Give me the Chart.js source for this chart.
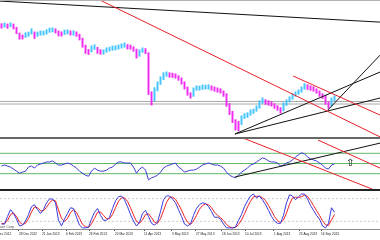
<!DOCTYPE html>
<html>
<head>
<meta charset="utf-8">
<script src="https://cdn.jsdelivr.net/npm/chart.js@4.4.1/dist/chart.umd.min.js"></script>
<style>
  html, body { margin: 0; padding: 0; background: #fff; }
  #wrap { position: relative; width: 380px; height: 240px; overflow: hidden; background: #fff; }
  canvas { position: absolute; left: 0; }
  .sep { position: absolute; left: 0; width: 380px; }
</style>
</head>
<body>
<div id="wrap">
  <canvas id="price" width="380" height="137" style="top:0"></canvas>
  <canvas id="rsi" width="380" height="51" style="top:138px"></canvas>
  <canvas id="stoch" width="380" height="49" style="top:191px"></canvas>
  <div class="sep" style="top:0;height:1px;background:#b4b4b4"></div>
  <div class="sep" style="top:137px;height:2px;background:#666"></div>
  <div class="sep" style="top:189px;height:2px;background:#222"></div>
</div>
<script>
// daily bars, Dec 2012 - Sep 2013
const highs = [1770,1774,1768,1775,1768,1750,1718,1708,1720,1724,
  1742,1725,1724,1730,1729,1737,1746,1747,1742,1730,
  1725,1735,1736,1730,1731,1725,1712,1690,1652,1628,
  1648,1654,1640,1627,1626,1637,1641,1647,1648,1653,
  1659,1664,1655,1652,1643,1630,1626,1637,1633,1610,
  1395,1418,1450,1478,1500,1505,1500,1498,1494,1484,
  1472,1450,1422,1390,1417,1428,1427,1433,1432,1434,
  1428,1422,1417,1412,1400,1385,1330,1288,1242,1232,
  1263,1275,1280,1296,1301,1318,1346,1362,1352,1346,
  1340,1330,1319,1308,1334,1351,1368,1384,1395,1406,
  1422,1440,1434,1428,1423,1412,1400,1385,1375,1340,
  1362,1373];
const lows = [1745,1750,1744,1752,1740,1715,1684,1685,1694,1700,
  1712,1688,1700,1706,1707,1712,1722,1724,1718,1702,
  1701,1710,1713,1707,1706,1700,1680,1640,1606,1600,
  1615,1628,1606,1601,1602,1612,1619,1623,1625,1630,
  1635,1640,1630,1629,1618,1580,1590,1612,1605,1380,
  1322,1345,1400,1436,1462,1480,1475,1474,1470,1458,
  1437,1410,1376,1360,1370,1403,1404,1408,1410,1409,
  1404,1398,1393,1388,1370,1315,1270,1226,1185,1180,
  1215,1248,1254,1266,1276,1288,1305,1332,1326,1321,
  1316,1304,1293,1278,1290,1320,1338,1354,1370,1381,
  1393,1409,1408,1403,1398,1387,1370,1358,1326,1304,
  1316,1345];

const rsiValues = [45,47,45,43,39,35,31,33,35,43,
  45,41,47,49,51,53,53,55,51,47,
  47,49,51,49,45,41,35,31,27,25,
  35,41,37,35,35,37,41,43,49,53,
  53,51,51,51,43,31,39,43,37,18,
  22,24,27,33,41,45,47,49,51,43,
  39,33,35,37,37,39,43,47,49,51,
  49,47,47,45,41,33,27,24,22,27,
  33,37,41,47,49,53,57,61,59,55,
  53,53,51,45,47,51,53,57,63,67,
  71,69,63,59,57,55,51,47,41,39,
  47,49];

const stochMain = [13,13,33,51,41,26,8,10,21,38,
  59,64,51,41,51,69,79,79,69,23,
  8,26,41,56,54,31,10,3,3,5,
  26,44,54,36,23,23,31,54,74,85,
  87,77,59,38,21,8,18,41,49,33,
  15,10,18,46,77,87,87,79,69,51,
  33,13,8,13,36,54,64,69,67,59,
  46,31,31,26,13,3,3,3,5,23,
  38,59,74,87,92,82,87,77,64,49,
  33,21,15,15,36,69,90,87,77,85,
  92,92,79,62,49,36,26,8,3,15,
  56,44];
const stochSignal = [15,14,22,38,42,33,18,12,15,27,
  45,58,56,48,48,57,69,76,74,50,
  28,20,28,43,51,44,28,12,6,4,
  14,28,44,45,36,27,27,38,56,73,
  82,82,73,56,37,20,15,24,38,40,
  30,18,15,27,48,70,83,84,78,65,
  50,32,18,12,21,36,52,62,66,64,
  56,44,36,30,22,12,6,3,4,12,
  24,40,58,73,85,86,86,82,75,62,
  48,33,22,17,24,42,65,82,84,83,
  85,89,86,75,62,48,36,22,11,9,
  24,38];

// date axis (positions in bars)
const tickPos = [-1.7, 6.33, 14, 22, 29.67, 38.33, 48, 57.33, 65.33, 74, 81.67, 91.33, 99.67, 107];
const tickLabels = ['6 Dec 2012','28 Dec 2012','21 Jan 2013','6 Feb 2013','26 Feb 2013','20 Mar 2013',
  '11 Apr 2013','3 May 2013','27 May 2013','18 Jun 2013','10 Jul 2013','1 Aug 2013','23 Aug 2013','16 Sep 2013'];

// drawn objects: [bar1, value1, bar2, value2]
const priceBlackLines = [[0, 1894, 127, 1778], [78.3, 1163, 126.7, 1504], [78.3, 1163, 126.7, 1361], [109.3, 1295, 126.7, 1597]];
const priceRedLines = [[33.3, 1900, 126.7, 1147], [97.7, 1482, 126.7, 1267]];
const priceLevels = [1342, 1328];
const rsiLevels = [70, 50, 30];
const rsiRedLines = [[81, 100, 124, 0], [106, 96, 126.7, 41]];
const rsiBlackLines = [[78.3, 23.5, 126.7, 90]];
const stochLevels = [80, 20];
const arrowMark = [116.7, 51];

const X_MAX = 380 / 3;
const UP = '#45c4ff';
const DOWN = '#f02cf0';

function seg(l) {
  return [{x: l[0], y: l[1]}, {x: l[2], y: l[3]}];
}
function hline(v) {
  return [{x: 0, y: v}, {x: X_MAX, y: v}];
}
function lineDs(data, color, width, order, dash) {
  return {
    type: 'line', data: data, borderColor: color, borderWidth: width,
    pointRadius: 0, fill: false, tension: 0, order: order, borderDash: dash || []
  };
}
function baseOptions(yMin, yMax) {
  return {
    responsive: false, animation: false, devicePixelRatio: 1, events: [],
    layout: {padding: 0},
    plugins: {legend: {display: false}, tooltip: {enabled: false}},
    scales: {
      x: {type: 'linear', min: 0, max: X_MAX, display: false, offset: false},
      y: {min: yMin, max: yMax, display: false}
    }
  };
}

// price panel
const barColors = highs.map((h, i) => {
  if (i === 0) return DOWN;
  return (h + lows[i]) >= (highs[i - 1] + lows[i - 1]) ? UP : DOWN;
});
new Chart(document.getElementById('price'), {
  type: 'bar',
  data: {
    datasets: [
      {type: 'bar', data: highs.map((h, i) => ({x: i + 0.5, y: [lows[i], h]})),
       backgroundColor: barColors, barThickness: 1.3, order: 2}
    ].concat(
      priceLevels.map(v => lineDs(hline(v), '#a8a8a8', 1, 3)),
      priceRedLines.map(l => lineDs(seg(l), '#e8202a', 1, 1)),
      priceBlackLines.map(l => lineDs(seg(l), '#111', 1, 1))
    )
  },
  options: baseOptions(1146.5, 1900)
});

// RSI panel
const arrowPlugin = {
  id: 'arrowMark',
  afterDatasetsDraw(chart) {
    const {ctx, scales: {x, y}} = chart;
    ctx.save();
    ctx.font = '10px "DejaVu Sans"';
    ctx.fillStyle = '#000';
    ctx.textAlign = 'center';
    ctx.textBaseline = 'middle';
    ctx.fillText('\u21E7', x.getPixelForValue(arrowMark[0]), y.getPixelForValue(arrowMark[1]));
    ctx.restore();
  }
};
new Chart(document.getElementById('rsi'), {
  type: 'line',
  data: {
    datasets: rsiLevels.map(v => lineDs(hline(v), '#62b866', 1, 3))
      .concat(
        [lineDs(rsiValues.map((v, i) => ({x: i + 0.5, y: v})), '#3c3cd2', 1, 2)],
        rsiRedLines.map(l => lineDs(seg(l), '#e8202a', 1, 1)),
        rsiBlackLines.map(l => lineDs(seg(l), '#111', 1, 1))
      )
  },
  options: baseOptions(0, 100),
  plugins: [arrowPlugin]
});

// Stochastic panel
const corpPlugin = {
  id: 'corp',
  afterDatasetsDraw(chart) {
    const {ctx, chartArea} = chart;
    ctx.save();
    ctx.font = '3.6px "Liberation Sans"';
    ctx.fillStyle = '#555';
    ctx.textBaseline = 'bottom';
    ctx.fillText('are Corp.', 0, chartArea.bottom);
    ctx.restore();
  }
};
const stochOpts = baseOptions(0, 100);
stochOpts.scales.x = {
  type: 'linear', min: 0, max: X_MAX, offset: false, position: 'bottom',
  border: {display: true, color: '#8c8c8c'},
  grid: {display: true, drawOnChartArea: false, drawTicks: true, tickLength: 2, color: '#555'},
  ticks: {
    align: 'start', padding: 1, maxRotation: 0, autoSkip: false,
    color: '#222', font: {family: 'Liberation Sans', size: 3.2},
    callback: (v, i) => tickLabels[i]
  },
  afterBuildTicks: scale => { scale.ticks = tickPos.map(v => ({value: v})); },
  afterFit: scale => { scale.height = 11; scale.paddingLeft = 0; scale.paddingRight = 0; }
};
new Chart(document.getElementById('stoch'), {
  type: 'line',
  data: {
    datasets: stochLevels.map(v => lineDs(hline(v), '#d0d0d0', 1, 3, [2, 2]))
      .concat([
        lineDs(stochSignal.map((v, i) => ({x: i + 0.5, y: v})), '#f02020', 1, 2),
        lineDs(stochMain.map((v, i) => ({x: i + 0.5, y: v})), '#3a3ae0', 1, 1)
      ])
  },
  options: stochOpts,
  plugins: [corpPlugin]
});
</script>
</body>
</html>
